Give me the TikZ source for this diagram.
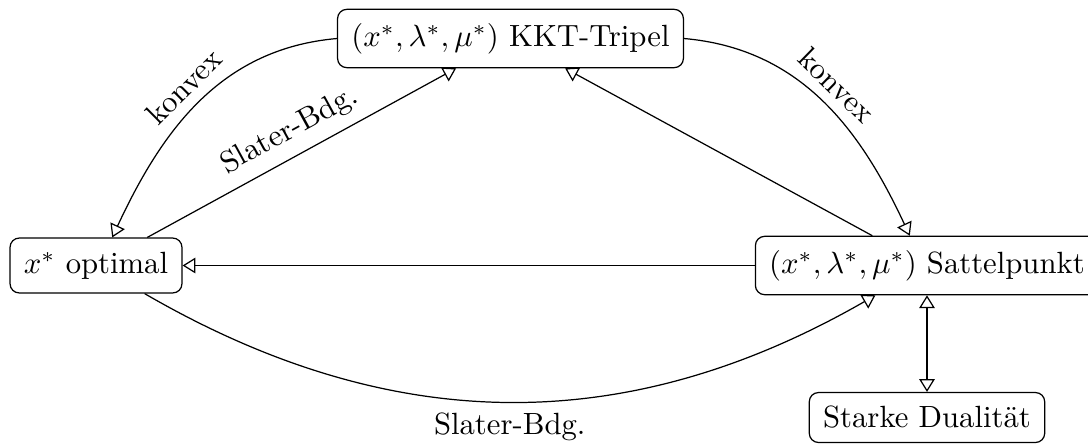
\documentclass[tikz,border=0pt]{standalone}
\usetikzlibrary{arrows.meta}
\begin{document}
\begin{tikzpicture}[x=0.3257pt, y=0.3257pt,
  box/.style={draw, rounded corners=3pt, inner sep=4.5pt},
  >={Triangle[open, length=4.2pt, width=5.1pt]},
  lbl/.style={midway, sloped, above}]
\useasboundingbox (0,0) rectangle (1088,-443);
\node[box] (kkt) at (510.5,-38.5) {$(x^*,\lambda^*,\mu^*)$ KKT-Tripel};
\node[box] (opt) at (96,-265.5) {$x^*$ optimal};
\node[box] (sattel) at (927,-265.5) {$(x^*,\lambda^*,\mu^*)$ Sattelpunkt};
\node[box] (starke) at (927,-417.5) {Starke Dualität};
\draw[->] (kkt.west) to[out=185, in=65] node[lbl]{konvex} (opt.60);
\draw[->] (opt) -- node[lbl]{Slater-Bdg.} (kkt);
\draw[->] (kkt.east) to[out=-5, in=115] node[lbl]{konvex} (sattel.120);
\draw[->] (sattel) -- (kkt);
\draw[->] (sattel) -- (opt);
\draw[->] (opt) to[bend right=30] node[midway, below]{Slater-Bdg.} (sattel);
\draw[<->] (sattel) -- (starke);
\end{tikzpicture}
\end{document}
